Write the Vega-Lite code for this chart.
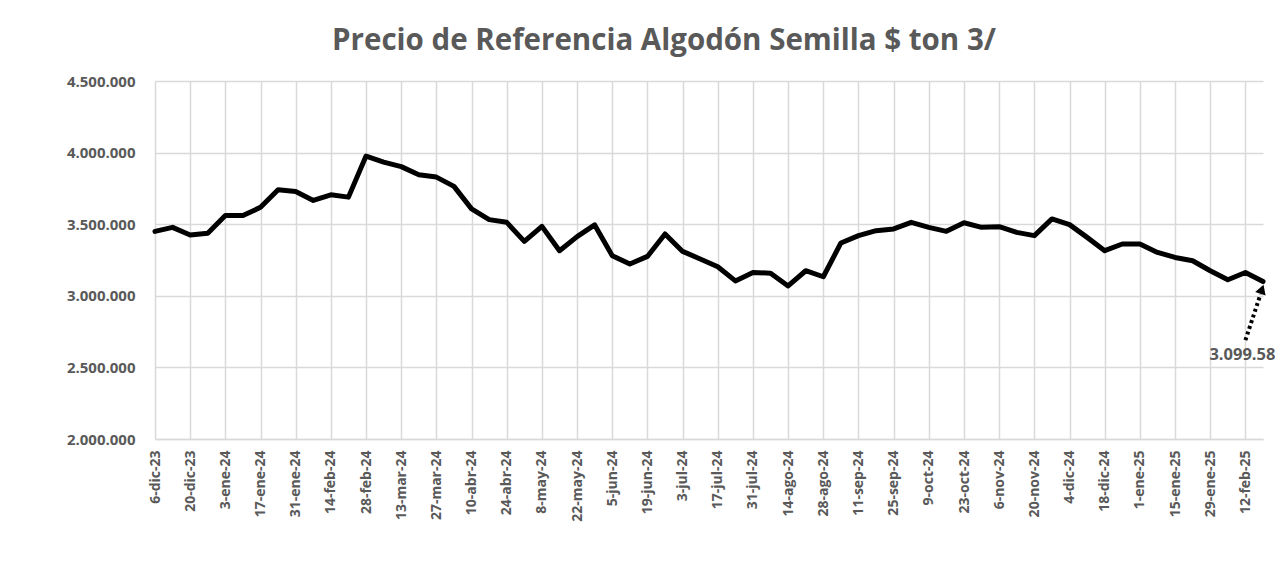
{
  "$schema": "https://vega.github.io/schema/vega-lite/v6.json",
  "width": 1108,
  "height": 358,
  "autosize": "none",
  "padding": {"left": 155, "top": 81, "right": 12, "bottom": 133},
  "background": "white",
  "title": {
    "text": "Precio de Referencia Algodón Semilla $ ton 3/",
    "font": "Open Sans",
    "fontSize": 29.5,
    "fontWeight": "bold",
    "color": "#595959",
    "anchor": "middle",
    "dx": -45,
    "offset": 18
  },
  "config": {
    "view": {"stroke": null},
    "locale": {"number": {"decimal": ",", "thousands": ".", "grouping": [3], "currency": ["$", ""]}}
  },
  "datasets": {
    "precio": [
      {"d": "2023-12-06", "v": 3450000},
      {"d": "2023-12-13", "v": 3478000},
      {"d": "2023-12-20", "v": 3425000},
      {"d": "2023-12-27", "v": 3436000},
      {"d": "2024-01-03", "v": 3560000},
      {"d": "2024-01-10", "v": 3560000},
      {"d": "2024-01-17", "v": 3618000},
      {"d": "2024-01-24", "v": 3741000},
      {"d": "2024-01-31", "v": 3729000},
      {"d": "2024-02-07", "v": 3666000},
      {"d": "2024-02-14", "v": 3705000},
      {"d": "2024-02-21", "v": 3689000},
      {"d": "2024-02-28", "v": 3976000},
      {"d": "2024-03-06", "v": 3934000},
      {"d": "2024-03-13", "v": 3902000},
      {"d": "2024-03-20", "v": 3846000},
      {"d": "2024-03-27", "v": 3829000},
      {"d": "2024-04-03", "v": 3764000},
      {"d": "2024-04-10", "v": 3607000},
      {"d": "2024-04-17", "v": 3532000},
      {"d": "2024-04-24", "v": 3513000},
      {"d": "2024-05-01", "v": 3380000},
      {"d": "2024-05-08", "v": 3485000},
      {"d": "2024-05-15", "v": 3315000},
      {"d": "2024-05-22", "v": 3413000},
      {"d": "2024-05-29", "v": 3495000},
      {"d": "2024-06-05", "v": 3280000},
      {"d": "2024-06-12", "v": 3222000},
      {"d": "2024-06-19", "v": 3275000},
      {"d": "2024-06-26", "v": 3432000},
      {"d": "2024-07-03", "v": 3310000},
      {"d": "2024-07-10", "v": 3257000},
      {"d": "2024-07-17", "v": 3203000},
      {"d": "2024-07-24", "v": 3104000},
      {"d": "2024-07-31", "v": 3163000},
      {"d": "2024-08-07", "v": 3158000},
      {"d": "2024-08-14", "v": 3069000},
      {"d": "2024-08-21", "v": 3175000},
      {"d": "2024-08-28", "v": 3133000},
      {"d": "2024-09-04", "v": 3369000},
      {"d": "2024-09-11", "v": 3420000},
      {"d": "2024-09-18", "v": 3455000},
      {"d": "2024-09-25", "v": 3467000},
      {"d": "2024-10-02", "v": 3513000},
      {"d": "2024-10-09", "v": 3478000},
      {"d": "2024-10-16", "v": 3450000},
      {"d": "2024-10-23", "v": 3510000},
      {"d": "2024-10-30", "v": 3478000},
      {"d": "2024-11-06", "v": 3483000},
      {"d": "2024-11-13", "v": 3443000},
      {"d": "2024-11-20", "v": 3420000},
      {"d": "2024-11-27", "v": 3537000},
      {"d": "2024-12-04", "v": 3497000},
      {"d": "2024-12-11", "v": 3408000},
      {"d": "2024-12-18", "v": 3315000},
      {"d": "2024-12-25", "v": 3362000},
      {"d": "2025-01-01", "v": 3362000},
      {"d": "2025-01-08", "v": 3303000},
      {"d": "2025-01-15", "v": 3268000},
      {"d": "2025-01-22", "v": 3245000},
      {"d": "2025-01-29", "v": 3175000},
      {"d": "2025-02-05", "v": 3112000},
      {"d": "2025-02-12", "v": 3163000},
      {"d": "2025-02-19", "v": 3099580}
    ],
    "flecha": [
      {"d": "2025-02-12", "v": 2690000, "d2": "2025-02-18", "v2": 3010000}
    ],
    "punta": [
      {"d": "2025-02-18T14:00:00Z", "v": 3045000}
    ],
    "etiqueta": [
      {"d": "2025-02-12", "v": 2586000, "t": "3.099.58"}
    ]
  },
  "layer": [
    {
      "data": {"name": "precio"},
      "mark": {"type": "line", "color": "#000000", "strokeWidth": 5, "strokeJoin": "round", "strokeCap": "round"},
      "encoding": {
        "x": {
          "field": "d",
          "type": "temporal",
          "scale": {"type": "utc", "domain": [1701820800000, 1739923200000], "nice": false},
          "axis": {
            "title": null,
            "tickCount": 100,
            "values": [1701820800000, 1703030400000, 1704240000000, 1705449600000, 1706659200000, 1707868800000, 1709078400000, 1710288000000, 1711497600000, 1712707200000, 1713916800000, 1715126400000, 1716336000000, 1717545600000, 1718755200000, 1719964800000, 1721174400000, 1722384000000, 1723593600000, 1724803200000, 1726012800000, 1727222400000, 1728432000000, 1729641600000, 1730851200000, 1732060800000, 1733270400000, 1734480000000, 1735689600000, 1736899200000, 1738108800000, 1739318400000],
            "labelExpr": "utcdate(datum.value) + '-' + ['ene','feb','mar','abr','may','jun','jul','ago','sep','oct','nov','dic'][utcmonth(datum.value)] + '-' + utcFormat(datum.value, '%y')",
            "labelAngle": -90,
            "labelAlign": "right",
            "labelBaseline": "middle",
            "labelPadding": 11,
            "labelFont": "Open Sans",
            "labelFontSize": 14,
            "labelFontWeight": "bold",
            "labelColor": "#595959",
            "labelOverlap": false,
            "labelFlush": false,
            "ticks": false,
            "domainColor": "#d9d9d9",
            "domainWidth": 1.5,
            "gridColor": "#d9d9d9",
            "gridWidth": 1.5
          }
        },
        "y": {
          "field": "v",
          "type": "quantitative",
          "scale": {"domain": [2000000, 4500000], "nice": false, "zero": false},
          "axis": {
            "title": null,
            "tickCount": 20,
            "values": [2000000, 2500000, 3000000, 3500000, 4000000, 4500000],
            "format": ",d",
            "labelFont": "Open Sans",
            "labelFontSize": 15,
            "labelFontWeight": "bold",
            "labelColor": "#595959",
            "labelPadding": 20,
            "ticks": false,
            "domain": false,
            "gridColor": "#d9d9d9",
            "gridWidth": 1.5
          }
        }
      }
    },
    {
      "data": {"name": "flecha"},
      "mark": {"type": "rule", "color": "#000000", "strokeWidth": 4, "strokeDash": [3, 3]},
      "encoding": {
        "x": {"field": "d", "type": "temporal"},
        "y": {"field": "v", "type": "quantitative"},
        "x2": {"field": "d2"},
        "y2": {"field": "v2"}
      }
    },
    {
      "data": {"name": "punta"},
      "mark": {"type": "point", "shape": "triangle-up", "filled": true, "color": "#000000", "size": 120, "angle": 19, "opacity": 1},
      "encoding": {
        "x": {"field": "d", "type": "temporal"},
        "y": {"field": "v", "type": "quantitative"}
      }
    },
    {
      "data": {"name": "etiqueta"},
      "mark": {"type": "text", "font": "Open Sans", "fontSize": 16.5, "fontWeight": "bold", "color": "#595959", "align": "center", "baseline": "middle", "dx": -3},
      "encoding": {
        "x": {"field": "d", "type": "temporal"},
        "y": {"field": "v", "type": "quantitative"},
        "text": {"field": "t"}
      }
    }
  ]
}
